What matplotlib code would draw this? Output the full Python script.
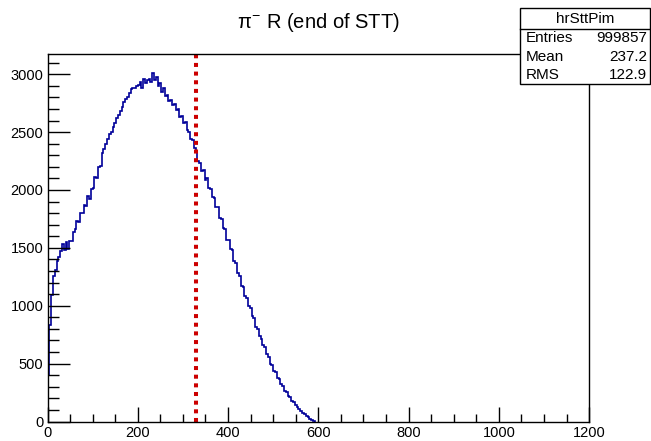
import matplotlib.pyplot as plt
import numpy as np
from matplotlib.patches import Rectangle
from matplotlib.ticker import MultipleLocator

plt.rcParams['font.family'] = ['Liberation Sans', 'DejaVu Sans']
plt.rcParams['mathtext.fontset'] = 'custom'
plt.rcParams['mathtext.rm'] = 'Liberation Sans'
plt.rcParams['mathtext.it'] = 'Liberation Sans'

# histogram contents, bin width 4, starting at 0
bin_width = 4
counts = [
    400, 830, 1090, 1260, 1310, 1390, 1420, 1470, 1530, 1480,
    1550, 1490, 1560, 1560, 1640, 1660, 1730, 1720, 1800, 1800,
    1870, 1860, 1950, 1920, 2010, 2020, 2110, 2100, 2200, 2210,
    2320, 2350, 2400, 2440, 2480, 2500, 2540, 2580, 2620, 2650,
    2680, 2720, 2760, 2790, 2800, 2840, 2870, 2880, 2880, 2900,
    2910, 2930, 2880, 2960, 2920, 2950, 2960, 2930, 3010, 2950,
    2980, 2900, 2920, 2850, 2880, 2810, 2820, 2770, 2780, 2730,
    2740, 2690, 2700, 2630, 2640, 2580, 2590, 2520, 2500, 2440,
    2430, 2360, 2340, 2250, 2230, 2160, 2170, 2090, 2100, 2020,
    2010, 1940, 1930, 1850, 1850, 1760, 1750, 1670, 1660, 1570,
    1570, 1490, 1480, 1390, 1370, 1280, 1260, 1170, 1160, 1080,
    1070, 1000, 980, 910, 890, 820, 800, 740, 710, 660,
    640, 580, 560, 500, 490, 440, 430, 380, 370, 320,
    310, 260, 255, 220, 210, 180, 170, 140, 128, 105,
    95, 74, 64, 46, 38, 22, 15, 5,
]
x_cut = 330
n_entries = 999857
mean = 237.2
rms = 122.9

edges = np.arange(len(counts) + 1) * bin_width

fig = plt.figure(figsize=(6.51, 4.41), dpi=100)
ax = fig.add_axes([0.073, 0.0442, 0.832, 0.8334])

ax.stairs(counts, edges, color='#000099', linewidth=1.2)
ax.axvline(x_cut, color='#cc0000', linewidth=2.9, linestyle=(0, (1, 1.15)))

ax.set_xlim(0, 1200)
ax.set_ylim(0, 3175)
ax.xaxis.set_major_locator(MultipleLocator(200))
ax.xaxis.set_minor_locator(MultipleLocator(50))
ax.yaxis.set_major_locator(MultipleLocator(500))
ax.yaxis.set_minor_locator(MultipleLocator(100))
ax.tick_params(axis='x', which='major', direction='in', length=11, width=1, labelsize=10.5, pad=3)
ax.tick_params(axis='x', which='minor', direction='in', length=5.5, width=1)
ax.tick_params(axis='y', which='major', direction='in', length=16, width=1, labelsize=10.5, pad=3)
ax.tick_params(axis='y', which='minor', direction='in', length=8, width=1)
for s in ax.spines.values():
    s.set_linewidth(1)

fig.text(0.489, 0.95, r'$\pi^{-}$ R (end of STT)', ha='center', va='center', fontsize=14.5)

# stats box
bx0, bx1 = 520 / 651, 650 / 651
by0, by1 = 1 - 84 / 441, 1 - 8 / 441
fig.patches.append(Rectangle((bx0, by0), bx1 - bx0, by1 - by0, transform=fig.transFigure,
                             facecolor='white', edgecolor='black', linewidth=1, zorder=5))
sep = 1 - 29 / 441
fig.add_artist(plt.Line2D([bx0, bx1], [sep, sep], transform=fig.transFigure, color='black', linewidth=1, zorder=6))
fig.text((bx0 + bx1) / 2, 1 - 19 / 441, 'hrSttPim', ha='center', va='center', fontsize=11, zorder=7)
rows = [('Entries', str(n_entries), 38), ('Mean', f'{mean:.1f}', 57), ('RMS', f'{rms:.1f}', 75)]
for name, val, ypx in rows:
    fig.text(526 / 651, 1 - ypx / 441, name, ha='left', va='center', fontsize=11, zorder=7)
    fig.text(647 / 651, 1 - ypx / 441, val, ha='right', va='center', fontsize=11, zorder=7)

fig.savefig('out.png', dpi=100)
